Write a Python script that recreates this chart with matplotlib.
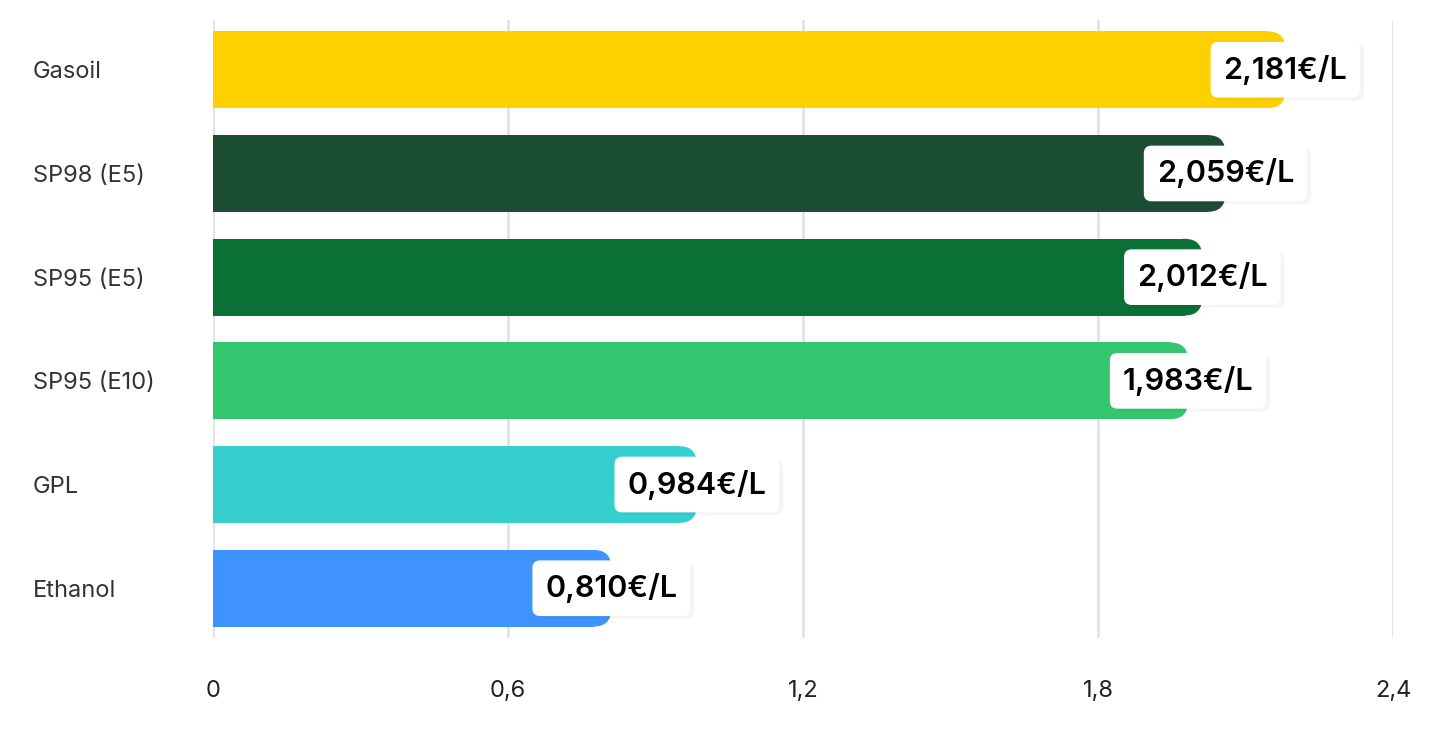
import matplotlib.pyplot as plt
from matplotlib.patches import FancyBboxPatch
import matplotlib.patheffects as pe

plt.rcParams['font.family'] = ['Inter', 'DejaVu Sans']

# fuel prices
fuels = ["Gasoil", "SP98 (E5)", "SP95 (E5)", "SP95 (E10)", "GPL", "Ethanol"]
prices = [2.181, 2.059, 2.012, 1.983, 0.984, 0.810]
colors = ["#FFD000", "#1B4D32", "#0A7035", "#34C66E", "#36CFCF", "#3F93FF"]
xticks = [0, 0.6, 1.2, 1.8, 2.4]
xtick_labels = ["0", "0,6", "1,2", "1,8", "2,4"]

fig = plt.figure(figsize=(14.5, 7.34), dpi=100)
ax = fig.add_axes([213 / 1450, 96 / 734, 1180 / 1450, 618 / 734])

bar_h = 0.74
rx = 0.036          # corner radius in x data units
aspect = 4.75       # y radius / x radius

for i, (p, c) in enumerate(zip(prices, colors)):
    ax.barh(i, p - rx, height=bar_h, color=c, zorder=2)
    cap = FancyBboxPatch((p - 2 * rx, i - bar_h / 2), 2 * rx, bar_h,
                         boxstyle=f"round,pad=0,rounding_size={rx}",
                         mutation_aspect=aspect, fc=c, ec='none', zorder=2)
    ax.add_patch(cap)
    label = f"{p:.3f}".replace('.', ',') + "€/L"
    t = ax.text(p, i, label, ha='center', va='center', fontsize=22,
                fontweight='semibold', color='#000000', zorder=4,
                bbox=dict(boxstyle='round,pad=0.42,rounding_size=0.25',
                          fc='white', ec='none'))
    t.get_bbox_patch().set_path_effects([
        pe.SimplePatchShadow(offset=(3, -2), shadow_rgbFace='#000000', alpha=0.04),
        pe.Normal()])

ax.set_xlim(0, 2.4)
ax.set_ylim(5.48, -0.48)
ax.set_xticks(xticks, xtick_labels)
ax.set_yticks(range(len(fuels)), fuels)
ax.grid(axis='x', color='#e3e3e3', linewidth=2, zorder=0)
for s in ax.spines.values():
    s.set_visible(False)

ax.tick_params(axis='y', length=0, pad=129.6, labelsize=17, labelcolor='#333333')
ax.tick_params(axis='x', length=0, pad=30, labelsize=17, labelcolor='#222222')
for lbl in ax.get_yticklabels():
    lbl.set_ha('left')

fig.savefig("out.png", dpi=100)
